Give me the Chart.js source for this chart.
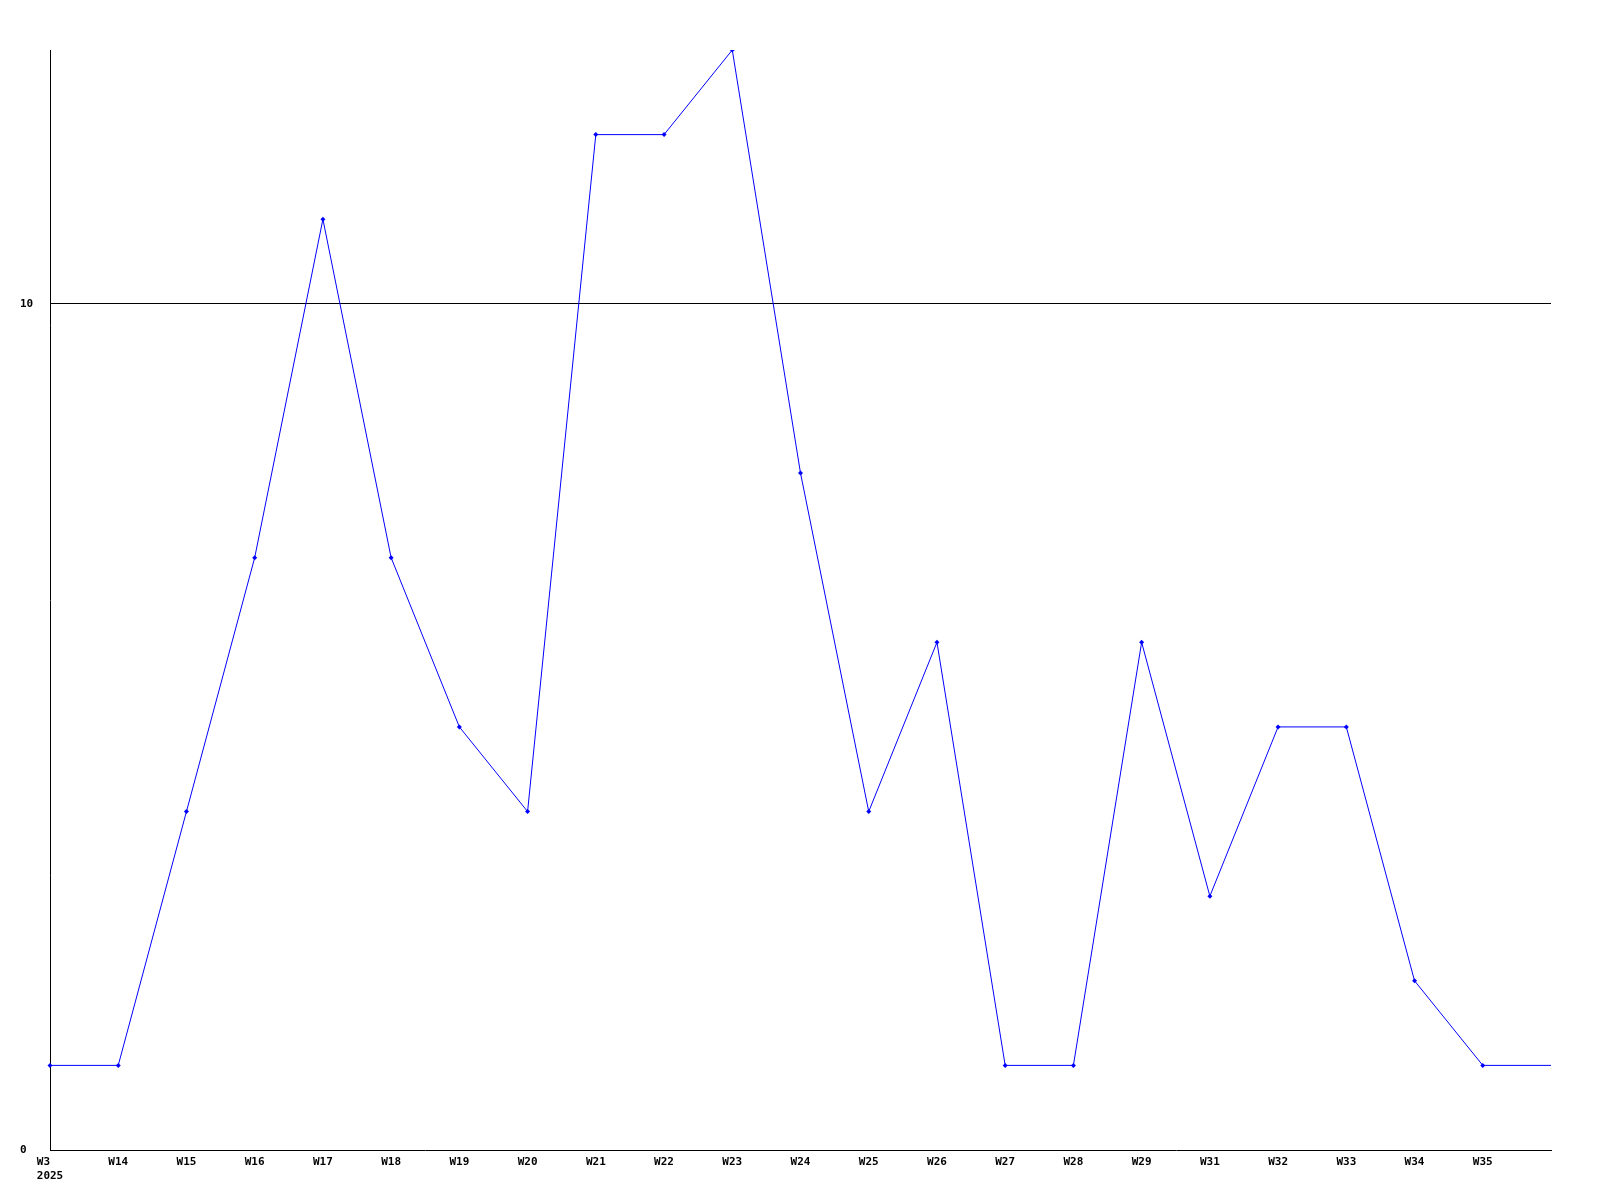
<!DOCTYPE html>
<html>
<head>
<meta charset="utf-8">
<script src="https://cdn.jsdelivr.net/npm/chart.js@4/dist/chart.umd.min.js"></script>
<style>
html,body{margin:0;padding:0;background:#fff;}
canvas{display:block;}
</style>
</head>
<body>
<canvas id="c" width="1600" height="1200"></canvas>
<script>
const categories = [["W3  ","2025"],"W14","W15","W16","W17","W18","W19","W20","W21","W22","W23","W24","W25","W26","W27","W28","W29","W31","W32","W33","W34","W35",""];
const values = [1,1,4,7,11,7,5,4,12,12,13,8,4,6,1,1,6,3,5,5,2,1,1];
const yTicks = [0,10];

const font = {family:"'DejaVu Sans Mono', monospace", size:11, weight:'bold'};

new Chart(document.getElementById('c'), {
  type:'line',
  data:{
    labels:categories,
    datasets:[{
      data:values,
      borderColor:'#0000ff',
      backgroundColor:'#0000ff',
      borderWidth:1,
      tension:0,
      fill:false,
      pointStyle:'rectRot',
      pointRadius:(ctx)=>ctx.dataIndex===values.length-1?0:2.5,
      pointBorderWidth:0,
      pointBackgroundColor:'#0000ff'
    }]
  },
  options:{
    responsive:false,
    animation:false,
    devicePixelRatio:1,
    layout:{padding:{top:50,right:49,bottom:0,left:20}},
    plugins:{legend:{display:false},tooltip:{enabled:false}},
    scales:{
      x:{
        offset:false,
        grid:{display:false,drawTicks:false},
        border:{display:true,color:'#000',width:1},
        ticks:{autoSkip:false,maxRotation:0,minRotation:0,color:'#000',font:font,padding:6},
        afterFit:(s)=>{s.height=50;}
      },
      y:{
        min:0,max:13,
        afterBuildTicks:(s)=>{s.ticks=yTicks.map(v=>({value:v}));},
        grid:{drawTicks:false,color:(ctx)=>(ctx.tick && ctx.tick.value===10)?'#000':'rgba(0,0,0,0)',lineWidth:1},
        border:{display:true,color:'#000',width:1},
        ticks:{color:'#000',font:font,padding:17,crossAlign:'far'},
        afterFit:(s)=>{s.width=30;}
      }
    }
  }
});
</script>
</body>
</html>
